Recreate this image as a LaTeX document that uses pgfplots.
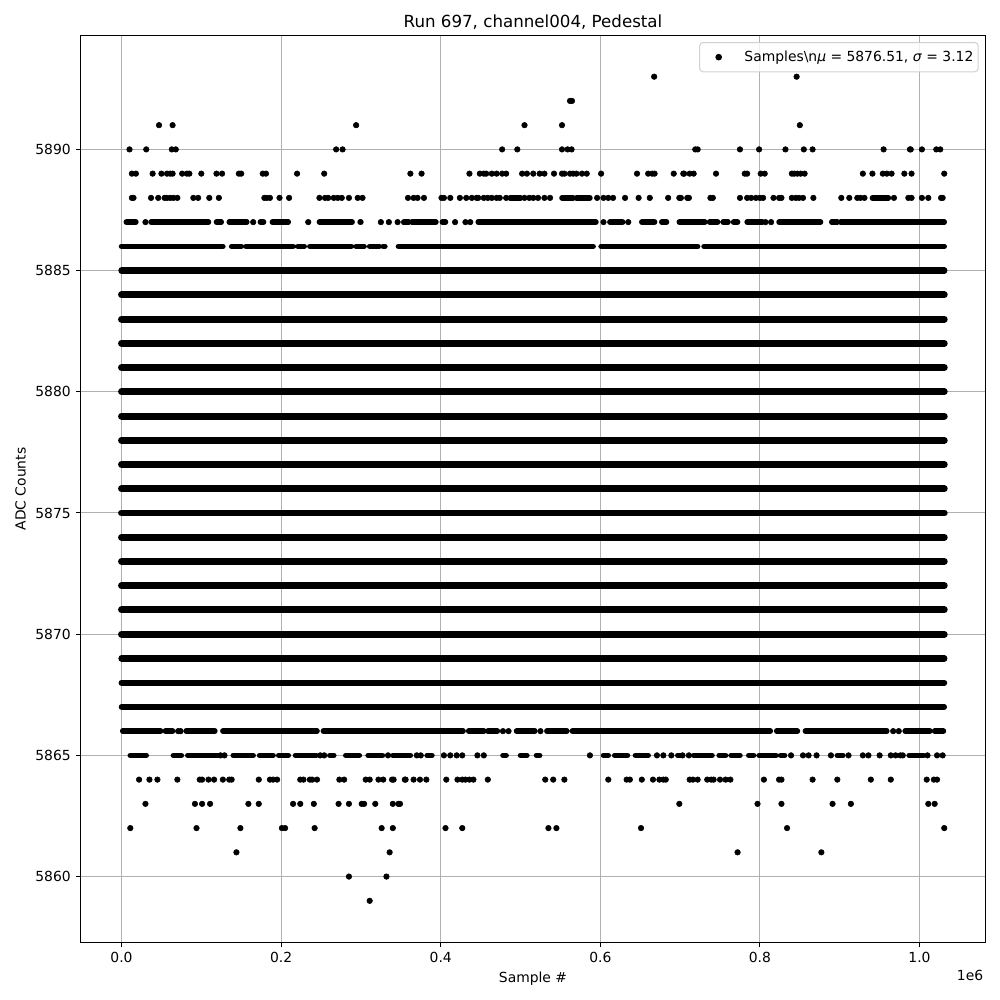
\documentclass[border=0pt]{standalone}
\usepackage{fontspec}
\setmainfont{DejaVu Sans}
\usepackage{pgfplots}
\pgfplotsset{compat=1.18}
% x values are in thousands of samples. Rows that look solid in the reference are
% drawn as thick round-capped line runs between read-off ends, not as each sample.
\begin{document}
\begin{tikzpicture}[x=1in,y=1in]
\useasboundingbox (0,0) rectangle (10,10);
\begin{axis}[
  at={(0.805in,0.575in)},anchor=south west,
  scale only axis,width=9.05in,height=9.07in,
  xmin=-51.4,xmax=1082.7,ymin=5857.28,ymax=5894.70,
  xtick={0,200,400,600,800,1000},
  xticklabels={0.0,0.2,0.4,0.6,0.8,1.0},
  ytick={5860,5865,5870,5875,5880,5885,5890},
  yticklabel style={/pgf/number format/1000 sep={},/pgf/number format/assume math mode=true},
  tick label style={font=\fontsize{10bp}{12bp}\selectfont},
  label style={font=\fontsize{10bp}{12bp}\selectfont},
  title style={font=\fontsize{12bp}{14bp}\selectfont,yshift=-5pt},
  title={Run 697, channel004, Pedestal},
  xlabel={Sample \#},ylabel={ADC Counts},
  tick align=outside,xtick pos=bottom,ytick pos=left,
  major tick length=3.5bp,
  every tick/.style={black,line width=0.72bp},
  axis line style={black,line width=0.72bp},
  grid=major,major grid style={color=black!31,line width=0.72bp},
  legend style={at={(0.9925,0.9928)},anchor=north east,draw=black!18,line width=0.72bp,
    rounded corners=2.5pt,fill opacity=0.8,text opacity=1,
    font=\fontsize{10bp}{12bp}\selectfont,inner xsep=1.5pt,inner ysep=4pt},
  legend image code/.code={\draw[mark repeat=2,mark phase=2,#1,fill opacity=1,draw opacity=1] plot coordinates {(0.09in,0in)(0.17in,0in)(0.25in,0in)};\path[draw=none,fill=none] (0in,0in) rectangle (0.40in,0in);},
  clip=false,
]
\addplot[only marks,mark=*,mark size=2bp,black] coordinates {
(667.5,5893)(846,5893)
(562,5892)(564.5,5892)
(47,5891)(64,5891)(294,5891)(505,5891)(552,5891)(850,5891)
(10,5890)(31,5890)(63,5890)(68,5890)(269,5890)(277,5890)(477,5890)(496,5890)(552,5890)(559,5890)(564,5890)(719,5890)(722,5890)(775,5890)(799,5890)(832,5890)(855,5890)(866,5890)(955,5890)(988,5890)(989,5890)(1003,5890)(1021,5890)(1026,5890)
(13,5889)(18,5889)(39,5889)(50,5889)(57,5889)(61,5889)(64,5889)(76,5889)(82,5889)(85,5889)(100,5889)(119,5889)(126,5889)(147,5889)(150,5889)(177,5889)(181,5889)(220,5889)(254,5889)(362,5889)(376,5889)(436,5889)(449,5889)(454,5889)(457,5889)(464,5889)(470,5889)(477,5889)(482,5889)(502,5889)(508,5889)(516,5889)(524,5889)(530,5889)(542,5889)(552,5889)(555,5889)(562,5889)(566,5889)(570,5889)(577,5889)(583,5889)(601,5889)(646,5889)(660,5889)(665,5889)(668,5889)(692,5889)(704,5889)(705,5889)(712,5889)(717,5889)(745,5889)(781,5889)(784,5889)(801,5889)(806,5889)(840,5889)(843,5889)(847,5889)(851,5889)(856,5889)(929,5889)(941,5889)(954,5889)(959,5889)(965,5889)(981,5889)(990,5889)(1031,5889)
(13,5888)(15,5888)(37,5888)(46,5888)(54,5888)(57,5888)(61,5888)(65,5888)(70,5888)(90,5888)(96,5888)(110,5888)(122,5888)(179,5888)(182,5888)(186,5888)(198,5888)(210,5888)(248,5888)(255,5888)(259,5888)(266,5888)(271,5888)(276,5888)(285,5888)(296,5888)(302,5888)(359,5888)(366,5888)(371,5888)(379,5888)(401,5888)(404,5888)(412,5888)(424,5888)(432,5888)(439,5888)(445,5888)(447,5888)(454,5888)(459,5888)(464,5888)(470,5888)(474,5888)(482,5888)(505,5888)(511,5888)(516,5888)(522,5888)(530,5888)(537,5888)(596,5888)(604,5888)(610,5888)(616,5888)(631,5888)(648,5888)(662,5888)(685,5888)(699,5888)(701,5888)(709,5888)(711,5888)(738,5888)(741,5888)(775,5888)(784,5888)(789,5888)(795,5888)(800,5888)(804,5888)(817,5888)(824,5888)(827,5888)(840,5888)(845,5888)(849,5888)(854,5888)(867,5888)(902,5888)(912,5888)(922,5888)(926,5888)(931,5888)(968,5888)(986,5888)(990,5888)(1003,5888)(1011,5888)(1027,5888)(1029,5888)
(30,5887)(165,5887)(234,5887)(325,5887)(335,5887)(346,5887)(354,5887)(418,5887)(431,5887)(437,5887)(604,5887)(635,5887)(807,5887)(814,5887)
(71,5866)(74,5866)(478,5866)(485,5866)(525,5866)(967,5866)(974,5866)
(124,5865)(129,5865)(249,5865)(254,5865)(334,5865)(370,5865)(375,5865)(404,5865)(412,5865)(420,5865)(427,5865)(446,5865)(454,5865)(587,5865)(671,5865)(679,5865)(689,5865)(703,5865)(711,5865)(839,5865)(854,5865)(861,5865)(871,5865)(889,5865)(911,5865)(929,5865)(936,5865)(950,5865)(964,5865)(970,5865)(976,5865)(979,5865)(1010,5865)(1022,5865)(1029,5865)
(22,5864)(35,5864)(45,5864)(70,5864)(98,5864)(101,5864)(109,5864)(116,5864)(127,5864)(135,5864)(138,5864)(172,5864)(186,5864)(190,5864)(195,5864)(224,5864)(228,5864)(236,5864)(239,5864)(245,5864)(273,5864)(279,5864)(306,5864)(311,5864)(322,5864)(328,5864)(339,5864)(341,5864)(355,5864)(356,5864)(366,5864)(374,5864)(382,5864)(407,5864)(421,5864)(427,5864)(431,5864)(436,5864)(441,5864)(459,5864)(531,5864)(541,5864)(555,5864)(610,5864)(633,5864)(637,5864)(652,5864)(666,5864)(674,5864)(679,5864)(682,5864)(712,5864)(716,5864)(722,5864)(734,5864)(739,5864)(742,5864)(750,5864)(757,5864)(763,5864)(805,5864)(824,5864)(827,5864)(866,5864)(897,5864)(939,5864)(964,5864)(1009,5864)(1018,5864)(1022,5864)
(30,5863)(92,5863)(101,5863)(111,5863)(159,5863)(172,5863)(215,5863)(224,5863)(241,5863)(272,5863)(285,5863)(301,5863)(304,5863)(318,5863)(340,5863)(347,5863)(349,5863)(699,5863)(797,5863)(827,5863)(891,5863)(914,5863)(1011,5863)(1019,5863)
(11,5862)(94,5862)(149,5862)(201,5862)(205,5862)(242,5862)(326,5862)(340,5862)(406,5862)(427,5862)(535,5862)(545,5862)(651,5862)(834,5862)(1031,5862)
(144,5861)(336,5861)(772,5861)(877,5861)
(285,5860)(332,5860)
(311,5859)
};
\addlegendentry{Samples\textbackslash n\textit{μ} = 5876.51, \textit{σ} = 3.12}
\addplot[black,line width=5bp,line cap=round,no marks,unbounded coords=jump,forget plot] coordinates {
(0,5884)(1031,5884)(nan,5884)
(0,5883)(1031,5883)(nan,5883)
(0,5882)(1031,5882)(nan,5882)
(0,5881)(1031,5881)(nan,5881)
(0,5880)(1031,5880)(nan,5880)
(0,5879)(1031,5879)(nan,5879)
(0,5878)(1031,5878)(nan,5878)
(0,5877)(1031,5877)(nan,5877)
(0,5876)(1031,5876)(nan,5876)
(0,5875)(1031,5875)(nan,5875)
(0,5874)(1031,5874)(nan,5874)
(0,5873)(1031,5873)(nan,5873)
(0,5872)(1031,5872)(nan,5872)
(0,5871)(1031,5871)(nan,5871)
(0,5870)(1031,5870)(nan,5870)
};
\addplot[black,line width=4.6bp,line cap=round,no marks,unbounded coords=jump,forget plot] coordinates {
(0,5885)(1031,5885)(nan,5885)
(0,5869)(1031,5869)(nan,5869)
};
\addplot[black,line width=4.3bp,line cap=round,no marks,unbounded coords=jump,forget plot] coordinates {
(0,5868)(1031,5868)(nan,5868)
};
\addplot[black,line width=4bp,line cap=round,no marks,unbounded coords=jump,forget plot] coordinates {
(0,5867)(1031,5867)(nan,5867)
% 5888 runs
(552,5888)(566,5888)(nan,5888)(570,5888)(587,5888)(nan,5888)(487,5888)(500,5888)(nan,5888)(941,5888)(961,5888)(nan,5888)
% 5887 runs
(6,5887)(18,5887)(nan,5887)(37,5887)(109,5887)(nan,5887)(119,5887)(125,5887)(nan,5887)(135,5887)(157,5887)(nan,5887)(174,5887)(178,5887)(nan,5887)(189,5887)(209,5887)(nan,5887)(248,5887)(289,5887)(nan,5887)(299,5887)(300,5887)(nan,5887)(355,5887)(360,5887)(nan,5887)(364,5887)(394,5887)(nan,5887)(402,5887)(406,5887)(nan,5887)(447,5887)(594.5,5887)(nan,5887)(612,5887)(628,5887)(nan,5887)(652,5887)(668,5887)(nan,5887)(677,5887)(683,5887)(nan,5887)(699,5887)(731,5887)(nan,5887)(737,5887)(747,5887)(nan,5887)(754,5887)(760,5887)(nan,5887)(767,5887)(772,5887)(nan,5887)(784,5887)(803,5887)(nan,5887)(824,5887)(876,5887)(nan,5887)(890,5887)(897,5887)(nan,5887)(901,5887)(1031,5887)(nan,5887)
% 5886 runs
(0,5886)(127,5886)(nan,5886)(138,5886)(150,5886)(nan,5886)(156,5886)(215,5886)(nan,5886)(221,5886)(229,5886)(nan,5886)(236,5886)(288,5886)(nan,5886)(294,5886)(304,5886)(nan,5886)(311,5886)(323,5886)(nan,5886)(328,5886)(330,5886)(nan,5886)(347,5886)(591,5886)(nan,5886)(601,5886)(722,5886)(nan,5886)(730,5886)(1031,5886)(nan,5886)
% 5866 runs
(1.5,5866)(49,5866)(nan,5866)(55,5866)(64,5866)(nan,5866)(81,5866)(117,5866)(nan,5866)(127,5866)(245,5866)(nan,5866)(253,5866)(428,5866)(nan,5866)(435,5866)(454,5866)(nan,5866)(459,5866)(471,5866)(nan,5866)(495,5866)(518,5866)(nan,5866)(533,5866)(558,5866)(nan,5866)(565,5866)(813,5866)(nan,5866)(821,5866)(847,5866)(nan,5866)(857,5866)(959,5866)(nan,5866)(982,5866)(1013,5866)(nan,5866)(1019,5866)(1030,5866)(nan,5866)
% 5865 runs
(11,5865)(31,5865)(nan,5865)(65,5865)(75,5865)(nan,5865)(83,5865)(121,5865)(nan,5865)(140,5865)(165,5865)(nan,5865)(173,5865)(190,5865)(nan,5865)(197,5865)(209,5865)(nan,5865)(218,5865)(244,5865)(nan,5865)(261,5865)(266,5865)(nan,5865)(281,5865)(298,5865)(nan,5865)(309,5865)(327,5865)(nan,5865)(340,5865)(362,5865)(nan,5865)(383,5865)(389,5865)(nan,5865)(478,5865)(482,5865)(nan,5865)(500,5865)(508,5865)(nan,5865)(520,5865)(524,5865)(nan,5865)(604,5865)(610,5865)(nan,5865)(618,5865)(634,5865)(nan,5865)(644,5865)(660,5865)(nan,5865)(697,5865)(702,5865)(nan,5865)(717,5865)(725,5865)(nan,5865)(720,5865)(740,5865)(nan,5865)(749,5865)(757,5865)(nan,5865)(764,5865)(775,5865)(nan,5865)(786,5865)(792,5865)(nan,5865)(799,5865)(820,5865)(nan,5865)(826,5865)(831,5865)(nan,5865)(897,5865)(904,5865)(nan,5865)(987,5865)(1005,5865)(nan,5865)
};
\node[anchor=east,inner sep=0pt,font=\fontsize{10bp}{12bp}\selectfont] at (rel axis cs:1,0) [yshift=-24pt,xshift=-1.5pt] {1e6};
\end{axis}
\end{tikzpicture}
\end{document}
